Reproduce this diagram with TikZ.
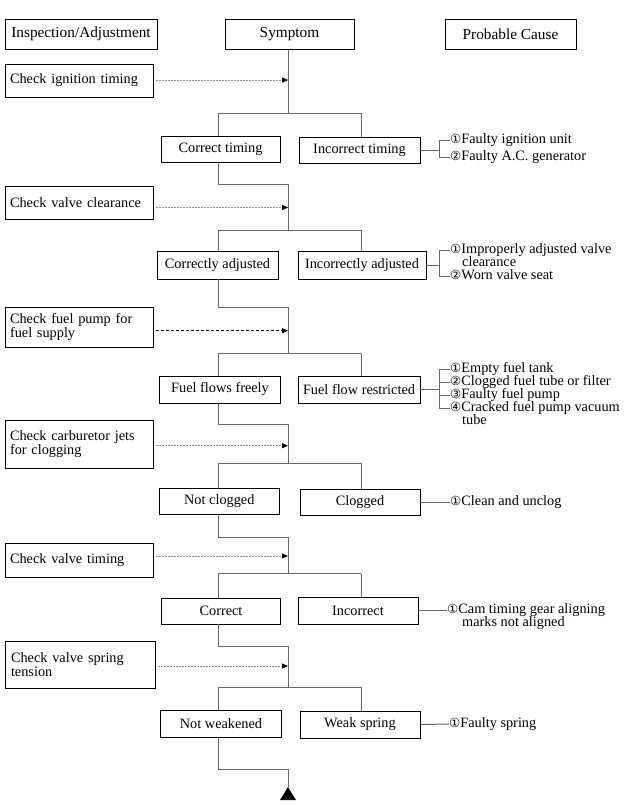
\documentclass[tikz,border=0pt]{standalone}
\usepackage{fontspec}
\setmainfont{Liberation Serif}
\newfontfamily\dvsans{DejaVu Sans}
\usetikzlibrary{arrows.meta,calc}
\newcommand\fsz{\fontsize{14.3}{14}\selectfont}
\newcommand\hfsz{\fontsize{15.3}{15}\selectfont}
\newcommand\cnum[1]{{\dvsans\fontsize{12.5}{12}\selectfont #1}}
\begin{document}
\begin{tikzpicture}[x=1pt,y=-1pt,
  box/.style={draw=black, line width=0.8pt, inner sep=0pt, font=\fsz},
  lbox/.style={box, text width=138pt, align=left, minimum width=148pt},
  sbox/.style={box, align=center},
  hbox/.style={box, align=center, font=\hfsz, minimum height=30pt},
  cause/.style={anchor=west, inner sep=0pt, font=\fsz, text height=8.5pt, text depth=2.5pt},
  conn/.style={draw=black!60, line width=1pt},
  dasharrow/.style={draw=black!45, line width=0.8pt, dash pattern=on 2pt off 1pt,
     -{Triangle[length=6pt,width=5pt,black]}},
  dasharrowk/.style={draw=black, line width=0.8pt, dash pattern=on 3pt off 2pt,
     -{Triangle[length=6pt,width=5pt,black]}}
]
\useasboundingbox (0,0) rectangle (626,806);
\fill[white] (0,0) rectangle (626,806);

% headers
\node[hbox, minimum width=152pt] (hA) at (81,34.3) {Inspection/Adjustment};
\node[hbox, minimum width=129pt] (hS) at (289.5,34.3) {Symptom};
\node[hbox, minimum width=131pt] (hP) at (510.5,34.3) {Probable Cause};

% left check boxes
\node[lbox, minimum height=33pt] (L1) at (79,80.5) {Check ignition timing};
\node[lbox, minimum height=33pt] (L2) at (79,202.5) {Check valve clearance};
\node[lbox, minimum height=40pt] (L3) at (79,327) {Check fuel pump for\\fuel supply};
\node[lbox, minimum height=48pt] (L4) at (79,444) {Check carburetor jets\\for clogging};
\node[lbox, minimum height=34pt] (L5) at (79,560) {Check valve timing};
\node[lbox, minimum height=47pt, minimum width=150pt] (L6) at (80,665) {Check valve spring\\tension};

% symptom boxes
\node[sbox, minimum width=119pt, minimum height=26pt] (S1) at (220.5,149) {Correct timing};
\node[sbox, minimum width=121pt, minimum height=26pt] (R1) at (359.5,150) {Incorrect timing};
\node[sbox, minimum width=121pt, minimum height=28pt] (S2) at (217.5,265) {Correctly adjusted};
\node[sbox, minimum width=128pt, minimum height=28pt] (R2) at (362,265) {Incorrectly adjusted};
\node[sbox, minimum width=120.5pt, minimum height=27pt] (S3) at (220,389.5) {Fuel flows freely};
\node[sbox, minimum width=122pt, minimum height=27pt] (R3) at (359,389.5) {Fuel flow restricted};
\node[sbox, minimum width=119.5pt, minimum height=26pt] (S4) at (219.3,501) {Not clogged};
\node[sbox, minimum width=120pt, minimum height=26pt] (R4) at (360,502) {Clogged};
\node[sbox, minimum width=119.5pt, minimum height=26pt] (S5) at (221,611) {Correct};
\node[sbox, minimum width=120pt, minimum height=27pt] (R5) at (358,610.5) {Incorrect};
\node[sbox, minimum width=120.5pt, minimum height=27pt] (S6) at (221,723.5) {Not weakened};
\node[sbox, minimum width=120pt, minimum height=27pt] (R6) at (360,724.5) {Weak spring};

% causes
\node[cause] (c11) at (450,140) {\cnum{①}Faulty ignition unit};
\node[cause] (c12) at (450,157) {\cnum{②}Faulty A.C. generator};
\node[cause] (c21) at (450,250) {\cnum{①}Improperly adjusted valve};
\node[cause] (c21b) at (462,263) {clearance};
\node[cause] (c22) at (450,276) {\cnum{②}Worn valve seat};
\node[cause] (c31) at (450,369) {\cnum{①}Empty fuel tank};
\node[cause] (c32) at (450,382) {\cnum{②}Clogged fuel tube or filter};
\node[cause] (c33) at (450,395) {\cnum{③}Faulty fuel pump};
\node[cause] (c34) at (450,408) {\cnum{④}Cracked fuel pump vacuum};
\node[cause] (c34b) at (462,421) {tube};
\node[cause] (c41) at (450,502) {\cnum{①}Clean and unclog};
\node[cause] (c51) at (447,610.5) {\cnum{①}Cam timing gear aligning};
\node[cause] (c51b) at (462,623.5) {marks not aligned};
\node[cause] (c61) at (449,724) {\cnum{①}Faulty spring};

% reference coordinates
\coordinate (lv) at (218,0);
\coordinate (rv) at (361,0);
\coordinate (br) at (439,0);
\coordinate (a1) at (288,80);    \coordinate (b1) at (288,113);   \coordinate (t1) at (288,184);
\coordinate (a2) at (288,207.5); \coordinate (b2) at (288,230);   \coordinate (t2) at (288,307);
\coordinate (a3) at (288,330.7); \coordinate (b3) at (288,353.6); \coordinate (t3) at (288,424);
\coordinate (a4) at (288,445.7); \coordinate (b4) at (288,463);   \coordinate (t4) at (288,537);
\coordinate (a5) at (288,556);   \coordinate (b5) at (288,573.7); \coordinate (t5) at (288,646);
\coordinate (a6) at (288,666);   \coordinate (b6) at (288,687);   \coordinate (t6) at (288,769);
\coordinate (tri) at (288,787);

% spine and branches
\draw[conn] (hS.south -| b1) -- (b1);
\foreach \i/\n in {1/2,2/3,3/4,4/5,5/6}{
  \draw[conn] (S\i.south -| lv) -- (t\i -| lv) -- (t\i) -- (b\n);
}
\draw[conn] (S6.south -| lv) -- (t6 -| lv) -- (t6) -- (tri);
\fill[black] (tri) -- ++(-8,13) -- ++(16,0) -- cycle;
\foreach \i in {1,...,6}{
  \draw[conn] (b\i -| lv) -- (b\i -| rv);
  \draw[conn] (b\i -| lv) -- (S\i.north -| lv);
  \draw[conn] (b\i -| rv) -- (R\i.north -| rv);
}

% inspection arrows
\draw[dasharrow] ($(L1.east |- a1)+(3,0)$) -- (a1);
\draw[dasharrow] ($(L2.east |- a2)+(3,0)$) -- (a2);
\draw[dasharrowk] ($(L3.east |- a3)+(3,0)$) -- (a3);
\draw[dasharrow] ($(L4.east |- a4)+(3,0)$) -- (a4);
\draw[dasharrow] ($(L5.east |- a5)+(3,0)$) -- (a5);
\draw[dasharrow] ($(L6.east |- a6)+(3,0)$) -- (a6);

% cause connectors
\draw[conn] (R1.east) -- (R1.east -| br);
\draw[conn] (c11.west) -- (c11.west -| br) -- (c12.west -| br) -- (c12.west);
\draw[conn] (R2.east) -- (R2.east -| br);
\draw[conn] (c21.west) -- (c21.west -| br) -- (c22.west -| br) -- (c22.west);
\draw[conn] (R3.east) -- (R3.east -| br);
\draw[conn] (c31.west) -- (c31.west -| br) -- (c34.west -| br) -- (c34.west);
\draw[conn] (c32.west -| br) -- (c32.west);
\draw[conn] (c33.west -| br) -- (c33.west);
\draw[conn] (R4.east) -- (c41.west);
\draw[conn] (R5.east) -- (c51.west);
\draw[conn] (R6.east) -- (c61.west);
\end{tikzpicture}
\end{document}
